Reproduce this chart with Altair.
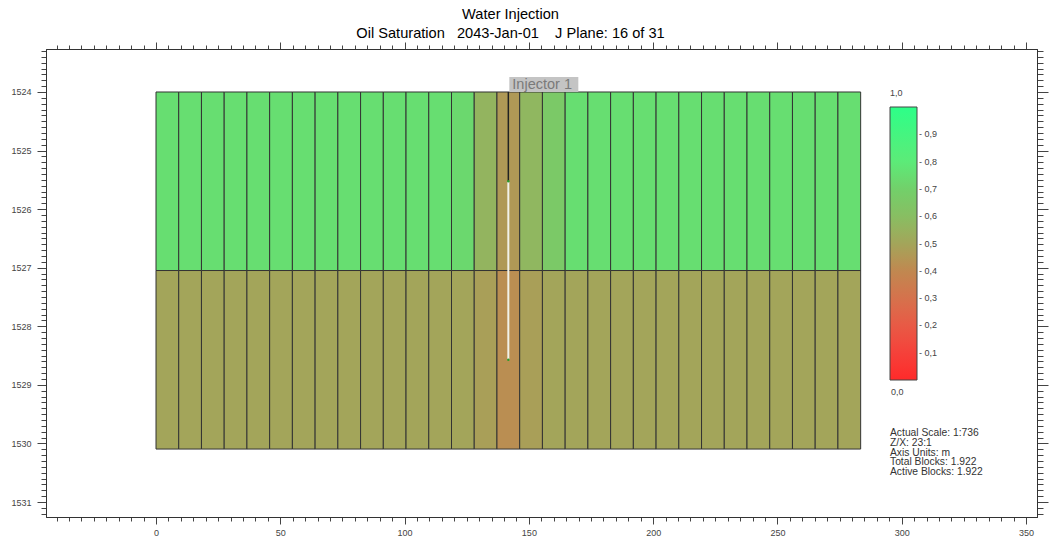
import altair as alt
import pandas as pd

# ---------------- data ----------------
CELL_WIDTH = 9.144                       # 30 ft blocks, in metres
N_COLS = 31
layer_tops = [1524.0, 1527.048]
layer_bottoms = [1527.048, 1530.096]

sat_layer1 = [0.75, 0.75, 0.75, 0.75, 0.75, 0.75, 0.75, 0.75, 0.75, 0.75, 0.75,
              0.75, 0.75, 0.73, 0.56, 0.46, 0.57, 0.66, 0.75, 0.75, 0.75, 0.75,
              0.75, 0.75, 0.75, 0.75, 0.75, 0.75, 0.75, 0.75, 0.75]
sat_layer2 = [0.50, 0.50, 0.50, 0.50, 0.50, 0.50, 0.50, 0.50, 0.50, 0.50, 0.50,
              0.50, 0.50, 0.50, 0.48, 0.42, 0.48, 0.50, 0.50, 0.50, 0.50, 0.50,
              0.50, 0.50, 0.50, 0.50, 0.50, 0.50, 0.50, 0.50, 0.50]

# colour scale (Oil Saturation 0..1)
color_stops = [0.0, 0.1, 0.2, 0.3, 0.4, 0.5, 0.6, 0.7, 0.8, 0.9, 1.0]
color_values = ["#ff2a2a", "#f5413a", "#e85a45", "#d5724c", "#c08850", "#a3a55a",
                "#88be62", "#72d06a", "#5ceb78", "#45f580", "#2dff88"]
legend_ticks = [0.1, 0.2, 0.3, 0.4, 0.5, 0.6, 0.7, 0.8, 0.9]

# well
well_name = "Injector 1"
well_x = 141.732           # centre of block I=16
well_top = 1524.0
perf_top = 1525.524
perf_bottom = 1528.572

info_lines = ["Actual Scale: 1:736", "Z/X: 23:1", "Axis Units: m",
              "Total Blocks: 1.922", "Active Blocks: 1.922"]
title_lines = ["Water Injection",
               "Oil Saturation\u00a0\u00a0\u00a02043-Jan-01\u00a0\u00a0\u00a0\u00a0J Plane: 16 of 31"]

x_domain = [-44.25, 354.4]
y_domain = [1523.266, 1531.256]
x_tick_values = [v for v in range(-40, 355, 5)]
y_tick_values = [round(1523.3 + 0.1 * i, 1) for i in range(80)]

# ---------------- tables ----------------
rows = []
for k, sats in enumerate([sat_layer1, sat_layer2]):
    for i in range(N_COLS):
        rows.append({"x0": i * CELL_WIDTH, "x1": (i + 1) * CELL_WIDTH,
                     "y0": layer_tops[k], "y1": layer_bottoms[k], "sat": sats[i]})
cells = pd.DataFrame(rows)
casing = pd.DataFrame({"x": [well_x], "y0": [well_top], "y1": [perf_top]})
perf = pd.DataFrame({"x": [well_x], "y0": [perf_top], "y1": [perf_bottom]})
perf_ends = pd.DataFrame({"x": [well_x, well_x], "y": [perf_top, perf_bottom]})
label_df = pd.DataFrame({"x": [well_x], "y": [well_top], "name": [well_name]})
one = pd.DataFrame({"a": [0]})

FONT = "Liberation Sans, Arial, sans-serif"

xs = alt.Scale(domain=x_domain, nice=False, zero=False)
ys = alt.Scale(domain=y_domain, nice=False, zero=False, reverse=True)

x_major = "datum.value % 50 === 0"
y_major = "abs(datum.value - round(datum.value)) < 0.001"

x_bottom = alt.Axis(orient="bottom", values=x_tick_values, format="d",
                    labelExpr=f"{x_major} ? datum.label : ''",
                    tickSize={"condition": {"test": x_major, "value": 7}, "value": 4},
                    labelPadding=4, labelOverlap=False, labelFlush=False, labelBound=False)
y_left = alt.Axis(orient="left", values=y_tick_values,
                  labelExpr=f"{y_major} ? format(datum.value, 'd') : ''",
                  tickSize={"condition": {"test": y_major, "value": 9}, "value": 5},
                  labelPadding=6, labelOverlap=False, labelFlush=False, labelBound=False)
x_top = alt.Axis(orient="top", values=x_tick_values, labels=False,
                 tickSize={"condition": {"test": x_major, "value": 7}, "value": 4})
y_right = alt.Axis(orient="right", values=y_tick_values, labels=False,
                   tickSize={"condition": {"test": y_major, "value": 11}, "value": 6})

color = alt.Color("sat:Q",
                  scale=alt.Scale(domain=color_stops, range=color_values, interpolate="rgb"),
                  legend=alt.Legend(orient="none", legendX=844, legendY=40,
                                    direction="vertical", gradientLength=273,
                                    gradientThickness=27, values=legend_ticks,
                                    labelExpr="'- ' + replace(format(datum.value, '.1f'), '.', ',')",
                                    title="1,0", titleFontSize=9, titleFont=FONT,
                                    titleFontWeight="normal", titleColor="#444",
                                    titlePadding=9, labelFontSize=9, labelFont=FONT,
                                    labelColor="#444", labelOffset=2,
                                    gradientStrokeColor="#444", gradientStrokeWidth=1,
                                    padding=0, labelOverlap=False))

grid = alt.Chart(cells).mark_rect(stroke="#333", strokeWidth=1).encode(
    x=alt.X("x0:Q", scale=xs, axis=x_bottom, title=None),
    x2="x1:Q",
    y=alt.Y("y0:Q", scale=ys, axis=y_left, title=None),
    y2="y1:Q",
    color=color,
)

casing_line = alt.Chart(casing).mark_rule(color="#222", strokeWidth=1.5).encode(
    x=alt.X("x:Q", scale=xs, axis=x_top, title=None),
    y=alt.Y("y0:Q", scale=ys, axis=y_right, title=None),
    y2="y1:Q",
)

perf_line = alt.Chart(perf).mark_rule(color="#f2f2ea", strokeWidth=2).encode(
    x=alt.X("x:Q", scale=xs, axis=None),
    y=alt.Y("y0:Q", scale=ys, axis=None),
    y2="y1:Q",
)

perf_dots = alt.Chart(perf_ends).mark_point(filled=True, size=6, color="#2a9a2a", opacity=1).encode(
    x=alt.X("x:Q", scale=xs, axis=None),
    y=alt.Y("y:Q", scale=ys, axis=None),
)

label_box = alt.Chart(label_df).mark_rect(color="#c4c4c4", xOffset=1, x2Offset=70,
                                          yOffset=-15, y2Offset=0).encode(
    x=alt.X("x:Q", scale=xs, axis=None),
    x2="x:Q",
    y=alt.Y("y:Q", scale=ys, axis=None),
    y2="y:Q",
)

label_text = alt.Chart(label_df).mark_text(align="left", baseline="alphabetic", dx=4, dy=-3,
                                           fontSize=14.5, font=FONT, color="#7a7a7a").encode(
    x=alt.X("x:Q", scale=xs, axis=None),
    y=alt.Y("y:Q", scale=ys, axis=None),
    text="name:N",
)

info = alt.Chart(one).mark_text(align="left", baseline="alphabetic", fontSize=10.3,
                                font=FONT, color="#333", lineHeight=9.8).encode(
    x=alt.value(844), y=alt.value(387), text=alt.value(info_lines))

zero_lbl = alt.Chart(one).mark_text(align="left", baseline="alphabetic", fontSize=9,
                                    font=FONT, color="#444").encode(
    x=alt.value(845), y=alt.value(346), text=alt.value("0,0"))

chart = alt.layer(grid, casing_line, perf_line, perf_dots, label_box, label_text,
                  info, zero_lbl).resolve_axis(
    x="independent", y="independent"
).properties(
    width=991, height=468,
    autosize=alt.AutoSizeParams(type="none"),
    padding={"left": 46, "top": 49, "right": 15, "bottom": 26},
    title=alt.TitleParams(title_lines, fontSize=14.6, font=FONT, fontWeight="normal",
                          color="black", anchor="middle", frame="group", dx=-31,
                          lineHeight=19, offset=1),
).configure_view(
    stroke="#333", strokeWidth=1
).configure_axis(
    domainColor="#333", tickColor="#444", labelColor="#444", labelFont=FONT,
    labelFontSize=9, grid=False, domainWidth=1, tickWidth=1
)

chart.save("out.html", embed_options={"renderer": "svg", "actions": False})
